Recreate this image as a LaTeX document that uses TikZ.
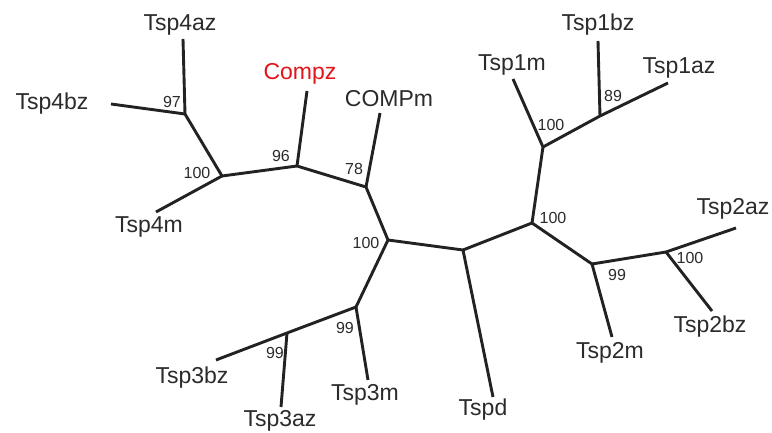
\documentclass[tikz,border=0pt]{standalone}
\usepackage{fontspec}
\setmainfont{Liberation Sans}
\definecolor{branch}{HTML}{222222}
\definecolor{taxon}{HTML}{2B2B2B}
\definecolor{highlight}{HTML}{E3141B}
\tikzset{
  edge/.style={draw=branch, line width=2.9pt, line cap=butt, line join=round},
  leaf/.style={inner sep=0pt, text=taxon, font=\fontsize{23}{23}\selectfont},
  boot/.style={inner sep=0pt, text=taxon, font=\fontsize{16}{16}\selectfont},
}
\begin{document}
\begin{tikzpicture}[x=1pt, y=-1pt]
\path[use as bounding box, fill=white] (0,0) rectangle (772,433);

% internal nodes
\coordinate (n97)  at (185,114);
\coordinate (n100a) at (222,176);
\coordinate (n96)  at (297,166);
\coordinate (n78)  at (366,187);
\coordinate (n100b) at (388,240);
\coordinate (n99a) at (356,307);
\coordinate (n99b) at (287,333);
\coordinate (nd)   at (463,250);
\coordinate (n100c) at (532,223);
\coordinate (n100d) at (543,147);
\coordinate (n89)  at (600,116);
\coordinate (n99c) at (592,264);
\coordinate (n100e) at (666,252);

% leaf ends
\coordinate (l4az) at (183,39);
\coordinate (l4bz) at (111,104);
\coordinate (l4m)  at (156,212);
\coordinate (lcz)  at (307,91);
\coordinate (lcm)  at (380,113);
\coordinate (l3m)  at (368,380);
\coordinate (l3bz) at (216,360);
\coordinate (l3az) at (281,407);
\coordinate (ld)   at (493,397);
\coordinate (l1m)  at (513,79);
\coordinate (l1bz) at (598,41);
\coordinate (l1az) at (668,83);
\coordinate (l2m)  at (612,337);
\coordinate (l2az) at (736,228);
\coordinate (l2bz) at (712,311);

% branches
\draw[edge] (l4az) -- (n97);
\draw[edge] (l4bz) -- (n97);
\draw[edge] (n97) -- (n100a);
\draw[edge] (l4m) -- (n100a);
\draw[edge] (n100a) -- (n96);
\draw[edge] (lcz) -- (n96);
\draw[edge] (n96) -- (n78);
\draw[edge] (lcm) -- (n78);
\draw[edge] (n78) -- (n100b);
\draw[edge] (n100b) -- (n99a);
\draw[edge] (n99a) -- (l3m);
\draw[edge] (n99a) -- (n99b);
\draw[edge] (n99b) -- (l3bz);
\draw[edge] (n99b) -- (l3az);
\draw[edge] (n100b) -- (nd);
\draw[edge] (nd) -- (ld);
\draw[edge] (nd) -- (n100c);
\draw[edge] (n100c) -- (n100d);
\draw[edge] (n100d) -- (l1m);
\draw[edge] (n100d) -- (n89);
\draw[edge] (n89) -- (l1bz);
\draw[edge] (n89) -- (l1az);
\draw[edge] (n100c) -- (n99c);
\draw[edge] (n99c) -- (l2m);
\draw[edge] (n99c) -- (n100e);
\draw[edge] (n100e) -- (l2az);
\draw[edge] (n100e) -- (l2bz);

% taxon names
\node[leaf] (t4az) at (180,25)  {Tsp4az};
\node[leaf] (t4bz) at (52,104)  {Tsp4bz};
\node[leaf] (t4m)  at (149,227) {Tsp4m};
\node[leaf, text=highlight] (tcz) at (300,74) {Compz};
\node[leaf] (tcm)  at (389,99)  {COMPm};
\node[leaf] (t3bz) at (192,378) {Tsp3bz};
\node[leaf] (t3az) at (280,421) {Tsp3az};
\node[leaf] (t3m)  at (365,395) {Tsp3m};
\node[leaf] (td)   at (483,410) {Tspd};
\node[leaf] (t1m)  at (512,65)  {Tsp1m};
\node[leaf] (t1bz) at (598,25)  {Tsp1bz};
\node[leaf] (t1az) at (679,68)  {Tsp1az};
\node[leaf] (t2az) at (733,209) {Tsp2az};
\node[leaf] (t2bz) at (710,327) {Tsp2bz};
\node[leaf] (t2m)  at (610,353) {Tsp2m};

% bootstrap support
\node[boot] (b97)   at (172,102) {97};
\node[boot] (b100a) at (197,173) {100};
\node[boot] (b96)   at (281,156) {96};
\node[boot] (b78)   at (354,169) {78};
\node[boot] (b100b) at (366,243) {100};
\node[boot] (b99a)  at (345,328) {99};
\node[boot] (b99b)  at (275,353) {99};
\node[boot] (b100d) at (551,125) {100};
\node[boot] (b89)   at (613,96)  {89};
\node[boot] (b100c) at (553,218) {100};
\node[boot] (b99c)  at (617,275) {99};
\node[boot] (b100e) at (690,258) {100};
\end{tikzpicture}
\end{document}
